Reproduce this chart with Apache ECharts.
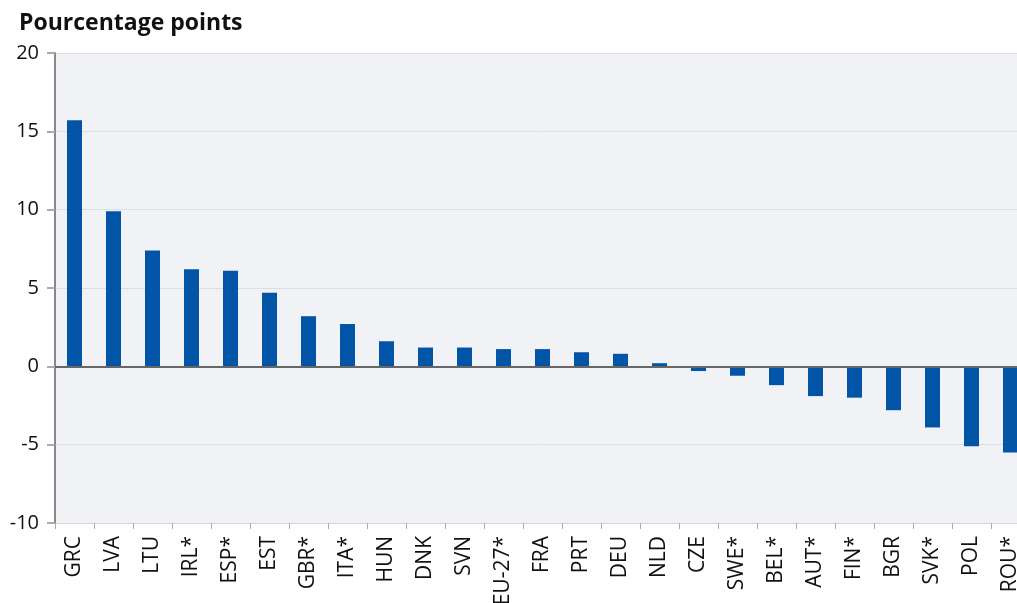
<!DOCTYPE html>
<html>
<head>
<meta charset="utf-8">
<script src="https://cdn.jsdelivr.net/npm/echarts@6/dist/echarts.min.js"></script>
<style>
  html, body { margin: 0; padding: 0; background: #fff; }
  #chart { width: 1017px; height: 603px; }
</style>
</head>
<body>
<div id="chart"></div>
<script>
  // pays
  var countries = ['GRC', 'LVA', 'LTU', 'IRL*', 'ESP*', 'EST', 'GBR*', 'ITA*', 'HUN', 'DNK', 'SVN', 'EU-27*', 'FRA',
    'PRT', 'DEU', 'NLD', 'CZE', 'SWE*', 'BEL*', 'AUT*', 'FIN*', 'BGR', 'SVK*', 'POL', 'ROU*']
  var values = [15.7, 9.9, 7.4, 6.2, 6.1, 4.7, 3.2, 2.7, 1.6, 1.2, 1.2, 1.1, 1.1,
    0.9, 0.8, 0.2, -0.3, -0.6, -1.2, -1.9, -2.0, -2.8, -3.9, -5.1, -5.5]
  var yTicks = { min: -10, max: 20, step: 5 }

  var myChart = echarts.init(document.getElementById('chart'))
  var font = '"Open Sans", "Lato", sans-serif'

  myChart.setOption({
    animation: false,
    title: {
      text: 'Pourcentage points',
      left: 14,
      top: 7,
      textStyle: { fontFamily: font, fontSize: 23, fontWeight: 'bold', color: '#111' }
    },
    grid: {
      left: 55,
      top: 53,
      width: 975,
      height: 470,
      outerBoundsMode: 'none',
      containLabel: false,
      show: true,
      backgroundColor: '#f1f2f5',
      borderWidth: 0
    },
    xAxis: {
      type: 'category',
      data: countries,
      position: 'bottom',
      axisLine: { onZero: false, lineStyle: { color: '#d6d7da', width: 1 } },
      axisTick: { show: true, length: 6, lineStyle: { color: '#aaa' } },
      axisLabel: {
        rotate: 90,
        interval: 0,
        margin: 13,
        fontFamily: font,
        fontSize: 21,
        color: '#111'
      }
    },
    yAxis: {
      type: 'value',
      min: yTicks.min,
      max: yTicks.max,
      interval: yTicks.step,
      axisLine: { show: true, lineStyle: { color: '#888', width: 2 } },
      axisTick: { show: true, length: 8, lineStyle: { color: '#aaa', width: 2 } },
      axisLabel: { fontFamily: font, fontSize: 20, color: '#111', margin: 16 },
      splitLine: { lineStyle: { color: '#dcdde1', width: 1 } }
    },
    series: [
      {
        type: 'bar',
        data: values,
        barWidth: 15,
        itemStyle: { color: '#0154a6' },
        markLine: {
          silent: true,
          symbol: 'none',
          label: { show: false },
          lineStyle: { color: '#666', width: 2, type: 'solid' },
          data: [{ yAxis: 0 }]
        }
      }
    ]
  })
</script>
</body>
</html>
